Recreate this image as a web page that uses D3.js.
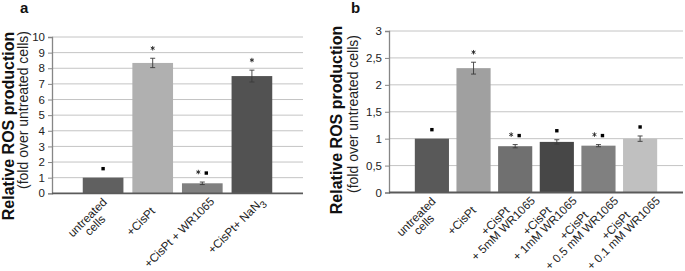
<!DOCTYPE html>
<html>
<head>
<meta charset="utf-8">
<script src="https://cdn.jsdelivr.net/npm/d3@7"></script>
<style>
  body { margin: 0; background: #fff; }
  svg { display: block; font-family: "Liberation Sans", Arial, sans-serif; }
</style>
</head>
<body>
<div id="chart"></div>
<script>
// Panel a data
const labelsA = [["untreated", "cells"], ["+CisPt"], ["+CisPt + WR1065"], ["+CisPt+ NaN_3"]];
const valuesA = [1.0, 8.34, 0.64, 7.5];
const errorsA = [0, 0.3, 0.08, 0.38];
const marksA = ["s", "*", "*s", "*"];
const colorsA = ["#606060", "#b0b0b0", "#808080", "#525252"];
const ticksA = [0, 1, 2, 3, 4, 5, 6, 7, 8, 9, 10];
const tickLabelsA = ["0", "1", "2", "3", "4", "5", "6", "7", "8", "9", "10"];

// Panel b data
const labelsB = [["untreated", "cells"], ["+CisPt"], ["+CisPt", "+ 5mM WR1065"], ["+CisPt", "+ 1mM WR1065"],
                 ["+CisPt", "+ 0.5 mM WR1065"], ["+CisPt", "+ 0.1 mM WR1065"]];
const valuesB = [1.0, 2.31, 0.86, 0.94, 0.87, 1.0];
const errorsB = [0, 0.11, 0.03, 0.04, 0.02, 0.05];
const marksB = ["s", "*", "*s", "s", "*s", "s"];
const colorsB = ["#595959", "#a0a0a0", "#707070", "#474747", "#808080", "#c0c0c0"];
const ticksB = [0, 0.5, 1, 1.5, 2, 2.5, 3];
const tickLabelsB = ["0", "0,5", "1", "1,5", "2", "2,5", "3"];

const width = 685;
const height = 271;

const svg = d3.select("#chart")
    .append("svg")
    .attr("width", width)
    .attr("height", height);

const star = d3.symbol(d3.symbolAsterisk || d3.symbolTimes, 14);

function drawPanel(p) {
    const xScale = d3.scaleBand()
        .domain(d3.range(p.values.length))
        .range([p.x0, p.x1])
        .paddingInner(0.18)
        .paddingOuter(0.62);

    const yScale = d3.scaleLinear()
        .domain([0, p.ticks[p.ticks.length - 1]])
        .range([p.y0, p.y1]);

    const g = svg.append("g");

    // gridlines
    g.selectAll(".grid")
        .data(p.ticks.slice(1))
        .enter().append("line")
        .attr("x1", p.x0).attr("x2", p.x1)
        .attr("y1", d => yScale(d)).attr("y2", d => yScale(d))
        .attr("stroke", "#c4c4c4")
        .attr("stroke-width", 1);

    // y axis
    const yAxis = g.append("g")
        .attr("transform", `translate(${p.x0},0)`)
        .call(d3.axisLeft(yScale).tickValues(p.ticks).tickSize(4).tickPadding(3)
            .tickFormat((d, i) => p.tickLabels[i]));
    yAxis.select(".domain").attr("stroke", "#868686").attr("stroke-width", 1.3);
    yAxis.selectAll(".tick line").attr("stroke", "#868686");
    yAxis.selectAll("text")
        .style("font-size", "11.5px")
        .style("font-family", "Liberation Sans, Arial, sans-serif")
        .attr("fill", "#222");

    // bars
    g.selectAll(".bar")
        .data(p.values)
        .enter().append("rect")
        .attr("x", (d, i) => xScale(i))
        .attr("y", d => yScale(d))
        .attr("width", xScale.bandwidth())
        .attr("height", d => yScale(0) - yScale(d))
        .attr("fill", (d, i) => p.colors[i]);

    // error bars
    p.values.forEach((v, i) => {
        const e = p.errors[i];
        if (!e) return;
        const cx = xScale(i) + xScale.bandwidth() / 2;
        const eg = g.append("g").attr("stroke", "#3a3a3a").attr("stroke-width", 0.9);
        eg.append("line").attr("x1", cx).attr("x2", cx)
            .attr("y1", yScale(v - e)).attr("y2", yScale(v + e));
        [v - e, v + e].forEach(t => {
            eg.append("line").attr("x1", cx - 2.5).attr("x2", cx + 2.5)
                .attr("y1", yScale(t)).attr("y2", yScale(t));
        });
    });

    // x axis line
    g.append("line")
        .attr("x1", p.x0).attr("x2", p.x1)
        .attr("y1", yScale(0)).attr("y2", yScale(0))
        .attr("stroke", "#5a5a5a")
        .attr("stroke-width", 1.8);

    // significance marks (s = small square, * = star)
    p.marks.forEach((m, i) => {
        const cx = xScale(i) + xScale.bandwidth() / 2;
        const cy = yScale(p.values[i] + p.errors[i]) - 9;
        const chars = m.split("");
        chars.forEach((c, j) => {
            const mx = cx + (chars.length === 1 ? 0 : (j === 0 ? -4 : 4));
            if (c === "s") {
                g.append("rect")
                    .attr("x", mx - 1.7).attr("y", cy - 1.7)
                    .attr("width", 3.4).attr("height", 3.4)
                    .attr("fill", "#000");
            } else {
                g.append("path")
                    .attr("transform", `translate(${mx},${cy - 1})`)
                    .attr("d", star())
                    .attr("fill", "none")
                    .attr("stroke", "#222")
                    .attr("stroke-width", 0.9);
            }
        });
    });

    // category labels, rotated -45
    const fs = 11.7, lh = 11, k = Math.SQRT1_2;
    p.labels.forEach((lines, i) => {
        const cx = xScale(i) + xScale.bandwidth() / 2;
        const lg = g.append("g");
        const n = lines.length;
        const widths = [];
        lines.forEach((line, j) => {
            const off = (j - (n - 1) / 2) * lh;
            const t = lg.append("text")
                .attr("x", 0)
                .attr("y", off + 0.35 * fs)
                .attr("text-anchor", "middle")
                .style("font-size", fs + "px")
                .attr("fill", "#222");
            const parts = line.split("_");
            t.append("tspan").text(parts[0]);
            if (parts[1]) {
                t.append("tspan").attr("dy", 4).style("font-size", "10px").text(parts[1]);
            }
            widths.push(t.node().getComputedTextLength());
        });
        // block centre below the tick, pushed down-left if a line end would reach the axis
        let c = [cx - 12, yScale(0) + 28];
        let minTip = Infinity;
        widths.forEach((w, j) => {
            const off = (j - (n - 1) / 2) * lh;
            minTip = Math.min(minTip, c[1] - k * w / 2 + k * off);
        });
        const limit = yScale(0) + 6;
        if (minTip < limit) {
            const s = (limit - minTip) / k;
            c = [c[0] - k * s, c[1] + k * s];
        }
        lg.attr("transform", `translate(${c[0]},${c[1]}) rotate(-45)`);
    });

    // y titles
    svg.append("text")
        .attr("transform", `translate(${p.t1[0]},${p.t1[1]}) rotate(-90)`)
        .attr("text-anchor", "middle")
        .style("font-size", "16px")
        .style("font-weight", "bold")
        .attr("fill", "#111")
        .text("Relative ROS production");
    svg.append("text")
        .attr("transform", `translate(${p.t2[0]},${p.t2[1]}) rotate(-90)`)
        .attr("text-anchor", "middle")
        .style("font-size", "14px")
        .attr("fill", "#222")
        .text("(fold over untreated cells)");

    // panel letter
    svg.append("text")
        .attr("x", p.letterPos[0]).attr("y", p.letterPos[1])
        .style("font-size", "15px")
        .style("font-weight", "bold")
        .attr("fill", "#111")
        .text(p.letter);
}

drawPanel({
    values: valuesA, errors: errorsA, marks: marksA, colors: colorsA, labels: labelsA,
    ticks: ticksA, tickLabels: tickLabelsA,
    x0: 52, x1: 303, y0: 193.3, y1: 37,
    t1: [14, 126], t2: [28, 110], letter: "a", letterPos: [20, 13]
});

drawPanel({
    values: valuesB, errors: errorsB, marks: marksB, colors: colorsB, labels: labelsB,
    ticks: ticksB, tickLabels: tickLabelsB,
    x0: 389, x1: 683, y0: 192.5, y1: 31,
    t1: [342, 120], t2: [358, 114], letter: "b", letterPos: [351, 13]
});
</script>
</body>
</html>
